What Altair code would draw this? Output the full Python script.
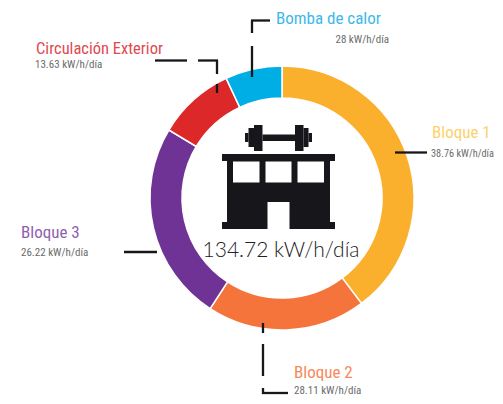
import altair as alt
import pandas as pd

categories = ["Bloque 1", "Bloque 2", "Bloque 3", "Circulación Exterior", "Bomba de calor"]
readings = ["38.76 kW/h/día", "28.11 kW/h/día", "26.22 kW/h/día", "13.63 kW/h/día", "28 kW/h/día"]
arc_shares = [143, 70, 88, 34, 25]
ring_colors = ["#FBB02D", "#F4743B", "#6F3295", "#DC2828", "#00AEE6"]
label_colors = ["#FBD26E", "#F58A5B", "#8F5FB0", "#E04A50", "#3DB9E9"]
total_label = "134.72 kW/h/día"

OX, OY = 8, 8
W, H = 487, 388
LABEL_FONT = "Roboto Condensed"
INK = "#17161A"
GREY = "#6B6B6B"

df = pd.DataFrame({"cat": categories, "share": arc_shares, "order": range(5)})
ring = alt.Chart(df).mark_arc(
    innerRadius=100, outerRadius=132, stroke="white", strokeWidth=1.5
).encode(
    theta=alt.Theta("share:Q", stack=True),
    order=alt.Order("order:Q"),
    color=alt.Color("cat:N", scale=alt.Scale(domain=categories, range=ring_colors), legend=None),
    x=alt.value(282 - OX),
    y=alt.value(198 - OY),
)

anchor = pd.DataFrame({"a": [0]})

def box(x1, y1, x2, y2, color=INK):
    return alt.Chart(anchor).mark_rect(color=color).encode(
        x=alt.value(x1 - OX), x2=alt.value(x2 - OX),
        y=alt.value(y1 - OY), y2=alt.value(y2 - OY))

def seg(x1, y1, x2, y2):
    return alt.Chart(anchor).mark_rule(color=INK, strokeWidth=2.3).encode(
        x=alt.value(x1 - OX), x2=alt.value(x2 - OX),
        y=alt.value(y1 - OY), y2=alt.value(y2 - OY))

def label(text, x, y, color, size, align="left", font=LABEL_FONT):
    return alt.Chart(pd.DataFrame({"t": [text]})).mark_text(
        color=color, fontSize=size, font=font, align=align, baseline="alphabetic"
    ).encode(x=alt.value(x - OX), y=alt.value(y - OY), text="t:N")

icon = [
    box(245, 133, 248.5, 142), box(248.5, 128, 254, 147), box(254, 125, 262.5, 151),
    box(262.5, 134.5, 295, 141),
    box(295, 125, 303.5, 151), box(303.5, 128, 308.5, 147), box(308.5, 133, 312, 142),
    box(222, 154, 335, 161), box(227, 161, 330, 222), box(222, 222, 335, 229),
    box(233, 161.5, 259.5, 182.5, "white"), box(265.5, 161.5, 291.5, 182.5, "white"),
    box(297.5, 161.5, 324, 182.5, "white"), box(267.5, 202, 289.5, 229.5, "white"),
]

leaders = [
    seg(251, 20.5, 270, 20.5), seg(252, 20, 252, 33), seg(252, 46, 252, 77),
    seg(155, 60.5, 187, 60.5), seg(198, 60.5, 218, 60.5), seg(217, 60, 217, 74), seg(217, 84, 217, 93),
    seg(395, 152.5, 427, 152.5),
    seg(263, 323, 263, 333), seg(263, 344, 263, 376), seg(263, 388, 263, 394), seg(262, 393, 288, 393),
    seg(124, 252, 157, 252),
]

texts = [
    label(categories[4], 276, 24, label_colors[4], 17),
    label(readings[4], 389, 43, GREY, 11, "right"),
    label(categories[3], 36, 54, label_colors[3], 16.5),
    label(readings[3], 35, 68, GREY, 11),
    label(categories[0], 432, 138, label_colors[0], 17),
    label(readings[0], 431, 157, GREY, 10.3),
    label(categories[1], 294, 378, label_colors[1], 17),
    label(readings[1], 294, 393.5, GREY, 11),
    label(categories[2], 21, 238, label_colors[2], 17),
    label(readings[2], 21, 256, GREY, 11),
    label(total_label, 281, 257, "#222222", 21, "center", "Lato Light"),
]

chart = alt.layer(ring, *icon, *leaders, *texts).properties(
    width=W, height=H, padding=0, autosize=alt.AutoSizeParams(type="none")
).configure_view(stroke=None)

chart.save("out.html", embed_options={"renderer": "svg", "actions": False})
